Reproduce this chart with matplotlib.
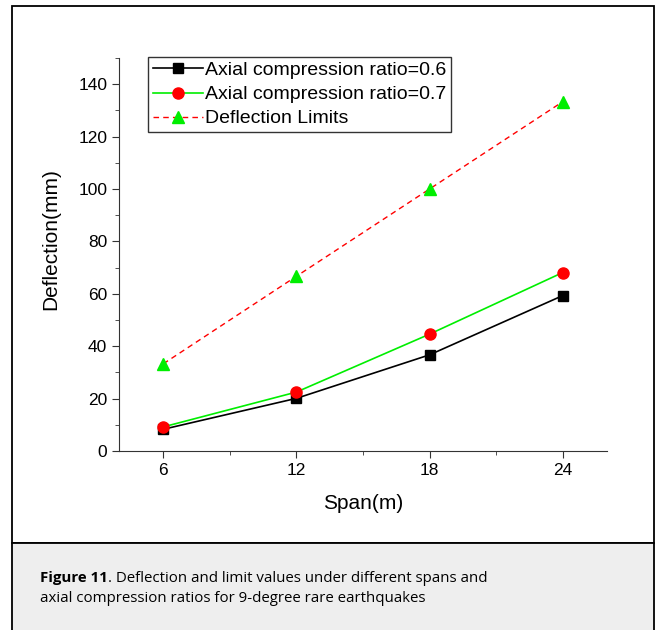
import numpy as np
import matplotlib
matplotlib.use("Agg")
from matplotlib import pyplot as plt
from matplotlib.patches import Rectangle
from matplotlib.ticker import MultipleLocator

# data
span = [6, 12, 18, 24]
defl_06 = [8.3, 20.1, 36.7, 59.3]
defl_07 = [9.2, 22.5, 44.6, 68.1]
limits = [33.3, 66.7, 100.0, 133.3]

W, H = 656, 630
fig = plt.figure(figsize=(W / 100, H / 100), dpi=100)
plt.rcParams['font.family'] = ['Liberation Sans', 'DejaVu Sans']

# outer frame and grey caption box
fig.patches.append(Rectangle((12 / W, 1 - 543 / H), 642 / W, (543 - 6) / H,
                             transform=fig.transFigure, fill=False, edgecolor='black', lw=1.3))
fig.patches.append(Rectangle((12 / W, -0.01), 642 / W, 1 - 543 / H + 0.01,
                             transform=fig.transFigure, facecolor='#eeeeee', edgecolor='black', lw=1.3))

ax = fig.add_axes([119 / W, 1 - 451 / H, (607 - 119) / W, (451 - 58) / H])
ax.plot(span, defl_06, 'k-', marker='s', ms=7, lw=1.2, label='Axial compression ratio=0.6')
ax.plot(span, defl_07, color='#00ee00', marker='o', mfc='red', mec='red', ms=8, lw=1.2,
        label='Axial compression ratio=0.7')
ax.plot(span, limits, color='red', ls='--', dashes=(4, 3), marker='^', mfc='#00ee00', mec='#00ee00',
        ms=9, lw=1.0, label='Deflection Limits')

ax.set_xlim(4, 26)
ax.set_ylim(0, 150)
ax.xaxis.set_major_locator(MultipleLocator(6))
ax.xaxis.set_minor_locator(MultipleLocator(3))
ax.yaxis.set_major_locator(MultipleLocator(20))
ax.yaxis.set_minor_locator(MultipleLocator(10))
ax.spines['top'].set_visible(False)
ax.spines['right'].set_visible(False)
for s in ['left', 'bottom']:
    ax.spines[s].set_color('#333333')
ax.tick_params(which='major', direction='out', length=5, labelsize=12.5, colors='#333333', labelcolor='black')
ax.tick_params(which='minor', direction='out', length=3, colors='#333333')
ax.set_xlabel('Span(m)', fontsize=15, labelpad=12)
ax.set_ylabel('Deflection(mm)', fontsize=15, labelpad=12)
ax.yaxis.set_label_coords(-0.12, 0.54)

leg = ax.legend(loc='upper left', bbox_to_anchor=(29 / 488, 1.003), fontsize=14, frameon=True, fancybox=False,
                borderpad=0.25, labelspacing=0.33, handlelength=2.6, handletextpad=0.1, borderaxespad=0)
leg.get_frame().set_edgecolor('black')
leg.get_frame().set_linewidth(1.0)

# caption: bold label followed by plain text
bold = fig.text(40 / W, 1 - 578 / H, 'Figure 11', fontsize=10.8, va='center', family='Open Sans',
                fontweight='bold')
fig.canvas.draw()
bb = bold.get_window_extent()
fig.text(bb.x1 / W, 1 - 578 / H, '. Deflection and limit values under different spans and',
         fontsize=10.8, va='center', family='Open Sans')
fig.text(40 / W, 1 - 598 / H, 'axial compression ratios for 9-degree rare earthquakes',
         fontsize=10.8, va='center', family='Open Sans')

fig.savefig('out.png', dpi=100)
